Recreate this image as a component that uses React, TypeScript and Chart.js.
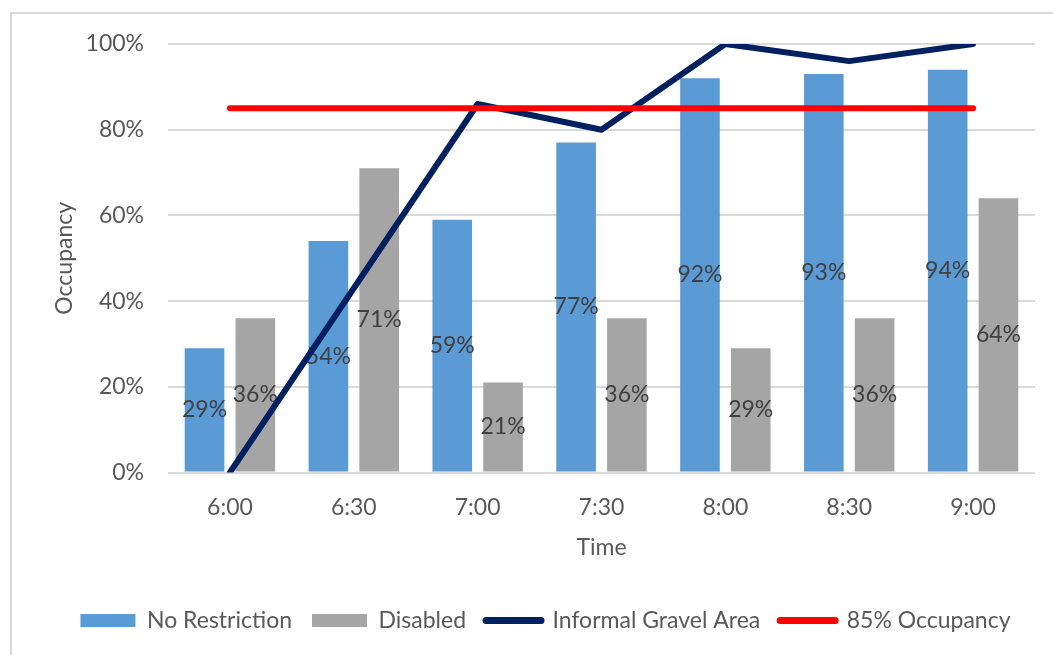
import React, { useEffect, useRef } from "react";
import { Chart, registerables } from "chart.js";

Chart.register(...registerables);

const categories = ["6:00", "6:30", "7:00", "7:30", "8:00", "8:30", "9:00"];
const noRestriction = [29, 54, 59, 77, 92, 93, 94];
const disabled = [36, 71, 21, 36, 29, 36, 64];
const informalGravel = [0, 43, 86, 80, 100, 96, 100];
const occupancyTarget = [85, 85, 85, 85, 85, 85, 85];
const seriesNames = ["No Restriction", "Disabled", "Informal Gravel Area", "85% Occupancy"];
const yMin = 0;
const yMax = 100;
const yStep = 20;

const FONT = "Lato";
const TEXT = "#595959";
const LABEL = "#404040";

const barLabels = {
  id: "barLabels",
  afterDatasetDraw(chart: any, args: any) {
    const ds = chart.data.datasets[args.index];
    if (ds.type !== "bar") return;
    const meta = args.meta;
    const ctx = chart.ctx;
    ctx.save();
    ctx.font = `23px ${FONT}`;
    ctx.fillStyle = LABEL;
    ctx.textAlign = "center";
    ctx.textBaseline = "middle";
    meta.data.forEach((el: any, i: number) => {
      const v = ds.data[i];
      const cy = (el.y + el.base) / 2;
      ctx.fillText(`${v}%`, el.x, cy);
    });
    ctx.restore();
  },
};

const legendShift = {
  id: "legendShift",
  afterLayout(chart: any) {
    if (chart.legend) {
      chart.legend.left += 8;
      chart.legend.right += 8;
    }
  },
};

export default function App() {
  const ref = useRef<HTMLCanvasElement | null>(null);
  useEffect(() => {
    if (!ref.current) return;
    const chart = new Chart(ref.current, {
      type: "bar",
      data: {
        labels: categories,
        datasets: [
          {
            type: "bar",
            label: seriesNames[0],
            data: noRestriction,
            backgroundColor: "#5b9bd5",
            borderWidth: 0,
            categoryPercentage: 0.82,
            barPercentage: 0.78,
            order: 2,
          } as any,
          {
            type: "bar",
            label: seriesNames[1],
            data: disabled,
            backgroundColor: "#a5a5a5",
            borderWidth: 0,
            categoryPercentage: 0.82,
            barPercentage: 0.78,
            order: 3,
          } as any,
          {
            type: "line",
            label: seriesNames[2],
            data: informalGravel,
            borderColor: "#002060",
            backgroundColor: "#002060",
            borderWidth: 6,
            pointRadius: 0,
            tension: 0,
            borderCapStyle: "round",
            borderJoinStyle: "round",
            order: 1,
          } as any,
          {
            type: "line",
            label: seriesNames[3],
            data: occupancyTarget,
            borderColor: "#ff0000",
            backgroundColor: "#ff0000",
            borderWidth: 6,
            pointRadius: 0,
            tension: 0,
            borderCapStyle: "round",
            order: 0,
          } as any,
        ],
      },
      options: {
        responsive: false,
        animation: false,
        maintainAspectRatio: false,
        layout: { padding: { left: 40, right: 18, top: 44, bottom: 13 } },
        plugins: {
          tooltip: { enabled: false },
          legend: {
            position: "bottom",
            labels: {
              font: { family: FONT, size: 23 },
              color: TEXT,
              usePointStyle: true,
              pointStyleWidth: 55,
              boxHeight: 13,
              padding: 20,
              generateLabels: (c: any) => {
                const items = (Chart.defaults.plugins.legend.labels as any).generateLabels(c);
                return items
                  .sort((a: any, b: any) => a.datasetIndex - b.datasetIndex)
                  .map((it: any) => {
                    const ds = c.data.datasets[it.datasetIndex];
                    const isLine = ds.type === "line";
                    return {
                      ...it,
                      pointStyle: isLine ? "line" : "rect",
                      lineWidth: isLine ? 7 : 0,
                      strokeStyle: isLine ? ds.borderColor : ds.backgroundColor,
                      fillStyle: ds.backgroundColor,
                      lineCap: "round",
                    };
                  });
              },
            },
          },
        },
        scales: {
          x: {
            grid: { display: false, drawTicks: false },
            border: { display: false },
            ticks: { font: { family: FONT, size: 23 }, color: TEXT, padding: 21 },
            title: {
              display: true,
              text: "Time",
              font: { family: FONT, size: 23 },
              color: TEXT,
              padding: { top: 4, bottom: 28 },
            },
            afterFit: (s: any) => {
              s.height = 116.5;
            },
          },
          y: {
            min: yMin,
            max: yMax,
            grid: { color: "#d9d9d9", lineWidth: 2, drawTicks: false },
            border: { display: false },
            ticks: {
              stepSize: yStep,
              font: { family: FONT, size: 23 },
              color: TEXT,
              padding: 24,
              callback: (v: any) => `${v}%`,
            },
            title: {
              display: true,
              text: "Occupancy",
              font: { family: FONT, size: 23 },
              color: TEXT,
              padding: { top: 11, bottom: 4 },
            },
            afterFit: (s: any) => {
              s.width = 128;
            },
          },
        },
      },
      plugins: [barLabels, legendShift],
    });
    return () => chart.destroy();
  }, []);

  return (
    <div style={{ position: "fixed", left: 0, top: 0, width: 1053, height: 655, background: "#fff" }}>
      <div
        style={{
          position: "absolute",
          left: 10,
          top: 12,
          right: 0,
          bottom: 0,
          borderLeft: "2px solid #d9d9d9",
          borderTop: "2px solid #d9d9d9",
        }}
      />
      <canvas ref={ref} width={1053} height={655} style={{ position: "absolute", left: 0, top: 0 }} />
    </div>
  );
}
